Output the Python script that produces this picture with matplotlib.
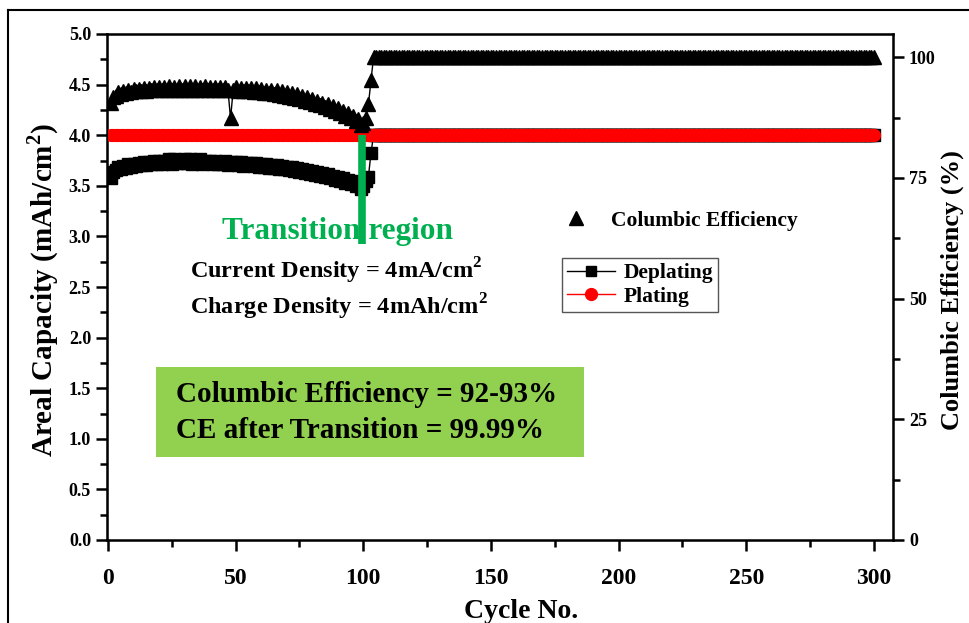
import numpy as np
import matplotlib.pyplot as plt
from matplotlib.lines import Line2D
from matplotlib.patches import Rectangle
from matplotlib.ticker import MultipleLocator, FormatStrFormatter

plt.rcParams['font.family'] = ['Liberation Serif', 'DejaVu Serif']
plt.rcParams['font.weight'] = 'bold'
plt.rcParams['axes.labelweight'] = 'bold'
plt.rcParams['mathtext.fontset'] = 'custom'
plt.rcParams['mathtext.bf'] = 'Liberation Serif:bold'
plt.rcParams['mathtext.rm'] = 'Liberation Serif:bold'

# cycle numbers
cycles = np.arange(1, 301)

# deplating capacity (mAh/cm2) for cycles 1-103, flat 4.0 after
deplating_early = [
    3.58, 3.64, 3.66, 3.69, 3.67, 3.70, 3.68, 3.72, 3.69, 3.72,
    3.70, 3.73, 3.71, 3.74, 3.71, 3.74, 3.72, 3.75, 3.72, 3.75,
    3.72, 3.75, 3.73, 3.76, 3.72, 3.76, 3.73, 3.75, 3.73, 3.76,
    3.73, 3.76, 3.72, 3.75, 3.73, 3.76, 3.72, 3.75, 3.73, 3.75,
    3.72, 3.75, 3.72, 3.74, 3.72, 3.75, 3.71, 3.74, 3.72, 3.74,
    3.71, 3.74, 3.70, 3.73, 3.71, 3.73, 3.70, 3.73, 3.69, 3.72,
    3.69, 3.72, 3.68, 3.71, 3.68, 3.71, 3.67, 3.70, 3.67, 3.69,
    3.66, 3.69, 3.65, 3.68, 3.64, 3.67, 3.63, 3.66, 3.62, 3.65,
    3.61, 3.64, 3.60, 3.63, 3.59, 3.62, 3.58, 3.60, 3.56, 3.59,
    3.55, 3.58, 3.53, 3.56, 3.52, 3.55, 3.50, 3.52, 3.47, 3.50,
    3.55, 3.59, 3.82,
]
deplating = deplating_early + [4.0] * (300 - len(deplating_early))

# plating capacity (mAh/cm2)
plating = [4.0] * 300

# columbic efficiency (%)
ce_early = [
    90.6, 91.8, 92.0, 92.7, 92.3, 93.0, 92.6, 93.3, 92.8, 93.4,
    92.9, 93.5, 93.0, 93.6, 93.0, 93.7, 93.1, 93.8, 93.1, 93.8,
    93.2, 93.9, 93.2, 94.0, 93.3, 93.9, 93.3, 94.1, 93.3, 94.0,
    93.2, 94.0, 93.3, 94.1, 93.2, 93.9, 93.3, 94.0, 93.2, 93.9,
    93.3, 93.9, 93.2, 93.8, 93.2, 93.9, 93.1, 87.3, 93.1, 93.8,
    93.0, 93.7, 93.0, 93.7, 92.9, 93.6, 92.8, 93.6, 92.7, 93.5,
    92.6, 93.3, 92.5, 93.2, 92.4, 93.1, 92.2, 92.9, 92.0, 92.7,
    91.8, 92.5, 91.6, 92.3, 91.3, 92.0, 91.0, 91.7, 90.7, 91.3,
    90.3, 91.0, 90.0, 90.6, 89.6, 90.2, 89.2, 89.8, 88.8, 89.4,
    88.4, 88.9, 87.9, 88.4, 87.4, 87.8, 86.8, 87.2, 86.0, 86.4,
    87.5, 90.2, 95.2,
]
ce = ce_early + [99.99] * (300 - len(ce_early))

# green marker of the transition
transition_x = 99.5
transition_y = [2.92, 4.0]

W, H = 969, 623
fig = plt.figure(figsize=(W / 100, H / 100), dpi=100)
ax = fig.add_axes([107 / W, 1 - 540 / H, (893 - 107) / W, (540 - 34) / H])

ax.plot(cycles, deplating, color='black', marker='s', ms=8, lw=1, label='Deplating', zorder=3)
ax.plot(cycles, plating, color='red', marker='o', ms=8.5, lw=1, label='Plating', zorder=4)
ax.plot([transition_x, transition_x], transition_y, color='#00b050', lw=5.5,
        solid_capstyle='butt', zorder=6)

ax.set_xlim(-0.4, 307.5)
ax.set_ylim(0, 5.0)
ax.xaxis.set_major_locator(MultipleLocator(50))
ax.xaxis.set_minor_locator(MultipleLocator(25))
ax.yaxis.set_major_locator(MultipleLocator(0.5))
ax.yaxis.set_minor_locator(MultipleLocator(0.25))
ax.yaxis.set_major_formatter(FormatStrFormatter('%.1f'))
ax.tick_params(which='major', direction='out', length=8, width=1.8)
ax.tick_params(which='minor', direction='out', length=5, width=1.8)
ax.tick_params(axis='x', labelsize=17, pad=12)
ax.tick_params(axis='y', labelsize=13)
for s in ax.spines.values():
    s.set_linewidth(1.8)

ax.set_xlabel('Cycle No.', fontsize=20)
ax.set_ylabel('Areal Capacity (mAh/cm$^\\mathbf{2}$)', fontsize=21)
ax.xaxis.set_label_coords(0.527, -0.117)
ax.yaxis.set_label_coords(-0.058, 0.494)

ax2 = ax.twinx()
ax2.plot(cycles, ce, color='black', marker='^', ms=10, lw=1, zorder=3)
ax2.set_ylim(0, 104.8)
ax2.yaxis.set_major_locator(MultipleLocator(25))
ax2.yaxis.set_minor_locator(MultipleLocator(12.5))
ax2.tick_params(which='major', direction='out', length=8, width=1.8, labelsize=13)
ax2.tick_params(which='minor', direction='out', length=5, width=1.8)
ax2.set_ylabel('Columbic Efficiency (%)', fontsize=19)
ax2.yaxis.set_label_coords(1.061, 0.494)

leg1 = ax2.legend(handles=[Line2D([], [], color='black', marker='s', ms=7, lw=1),
                           Line2D([], [], color='red', marker='o', ms=8.5, lw=1)],
                  labels=['Deplating', 'Plating'], loc='upper left',
                  bbox_to_anchor=(562 / W, 1 - 258 / H), bbox_transform=fig.transFigure,
                  fontsize=15.5, frameon=True, fancybox=False, edgecolor='#555555',
                  framealpha=1, handlelength=2.2, borderpad=0.25, labelspacing=0.15,
                  handletextpad=0.4, borderaxespad=0)
leg1.get_frame().set_linewidth(1.0)
ax2.add_artist(leg1)
ax2.legend(handles=[Line2D([], [], color='black', marker='^', ms=10, ls='none')],
           labels=['Columbic Efficiency'], loc='upper left',
           bbox_to_anchor=(546 / W, 1 - 202 / H), bbox_transform=fig.transFigure,
           fontsize=15.5, frameon=False, handletextpad=0.6, borderaxespad=0)

# annotation texts
fig.text(338 / W, 1 - 231 / H, 'Transition region', color='#00b050', fontsize=22.5,
         ha='center', va='center')
fig.text(190 / W, 1 - 271 / H, 'Current Density = 4mA/cm$^\\mathbf{2}$', fontsize=17.5,
         ha='left', va='center')
fig.text(190 / W, 1 - 307 / H, 'Charge Density = 4mAh/cm$^\\mathbf{2}$', fontsize=17.5,
         ha='left', va='center')

fig.patches.append(Rectangle((156 / W, 1 - 457 / H), (584 - 156) / W, (457 - 367) / H,
                             transform=fig.transFigure, facecolor='#92d050',
                             edgecolor='none', zorder=5))
fig.text(176 / W, 1 - 394 / H, 'Columbic Efficiency = 92-93%', fontsize=21,
         ha='left', va='center', zorder=6)
fig.text(176 / W, 1 - 431 / H, 'CE after Transition = 99.99%', fontsize=21,
         ha='left', va='center', zorder=6)

# outer frame of the picture
fig.add_artist(Line2D([8 / W, 8 / W], [0, 1 - 10 / H], color='black', lw=1.5,
                      transform=fig.transFigure))
fig.add_artist(Line2D([8 / W, 1], [1 - 10 / H, 1 - 10 / H], color='black', lw=1.5,
                      transform=fig.transFigure))

fig.savefig('out.png', dpi=100)
